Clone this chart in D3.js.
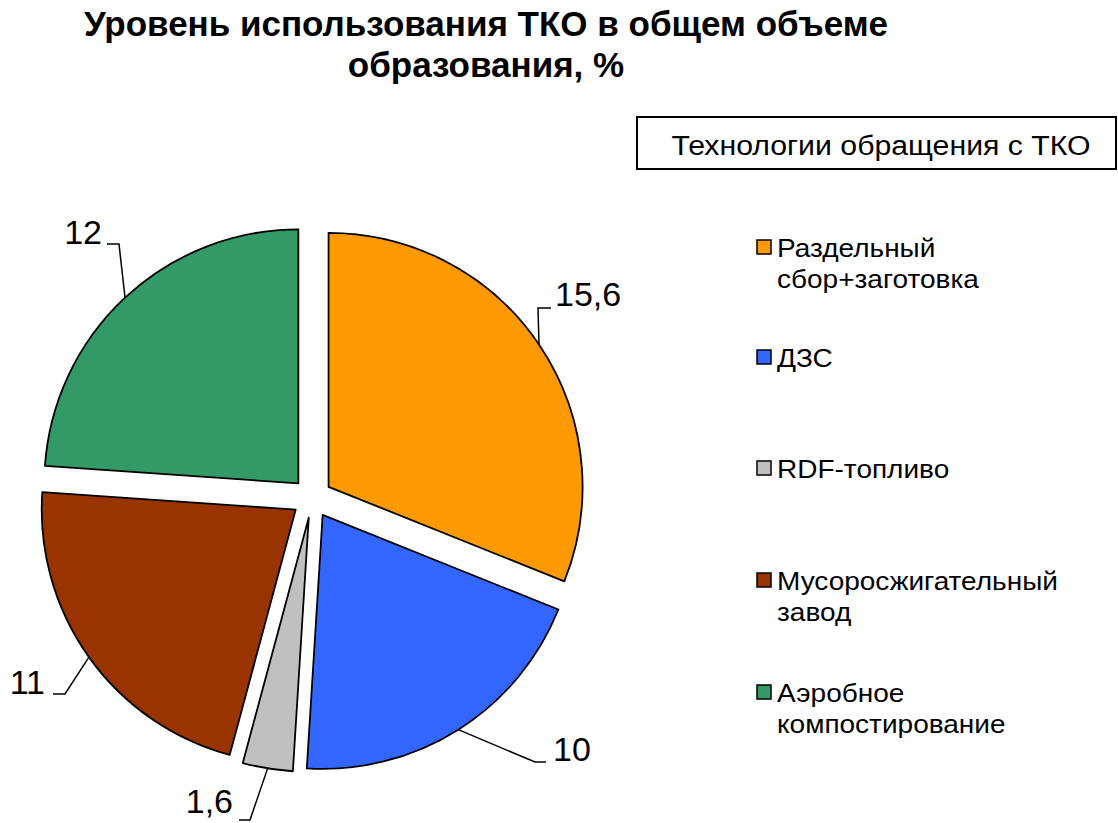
<!DOCTYPE html>
<html>
<head>
<meta charset="utf-8">
<script src="https://cdn.jsdelivr.net/npm/d3@7"></script>
<style>
  body { margin: 0; background: #fff; }
  text { font-family: "Liberation Sans", Arial, sans-serif; }
</style>
</head>
<body>
<svg id="chart" width="1118" height="823"></svg>
<script>
var categories = ["Раздельный сбор+заготовка", "ДЗС", "RDF-топливо", "Мусоросжигательный завод", "Аэробное компостирование"];
var values = [15.6, 10, 1.6, 11, 12];
var valueLabels = ["15,6", "10", "1,6", "11", "12"];
var colors = ["#FF9900", "#3366FF", "#C0C0C0", "#993300", "#339966"];
// legend lines (wrapped as in the picture)
var legendLines = [["Раздельный", "сбор+заготовка"], ["ДЗС"], ["RDF-топливо"], ["Мусоросжигательный", "завод"], ["Аэробное", "компостирование"]];
var titleLines = ["Уровень использования ТКО в общем объеме", "образования, %"];
var legendTitle = "Технологии обращения с ТКО";

// layout
var cx = 312, cy = 498, radius = 254, explode = 20;
var stretch = 1.12; // legend text in the picture is a bit wide
// leader elbow / end points and label text anchors (dragged labels)
var labelLayout = [
  {elbow: [538, 308], end: [551, 308], tx: 555, ty: 306, anchor: "start"},
  {elbow: [535, 762], end: [546, 762], tx: 553, ty: 761, anchor: "start"},
  {elbow: [250, 820], end: [239, 820], tx: 233, ty: 813, anchor: "end"},
  {elbow: [65, 694], end: [53, 694], tx: 45, ty: 694, anchor: "end"},
  {elbow: [119, 244], end: [107, 244], tx: 102, ty: 244, anchor: "end"}
];

var svg = d3.select("#chart");

function widen(sel, k) {
  sel.each(function() {
    var w = this.getComputedTextLength();
    d3.select(this).attr("textLength", w * k).attr("lengthAdjust", "spacingAndGlyphs");
  });
}

var title = svg.append("g").attr("class", "title");
title.selectAll("text")
  .data(titleLines)
  .enter()
  .append("text")
  .attr("x", 486)
  .attr("y", function(d, i) { return 36 + i * 41; })
  .attr("text-anchor", "middle")
  .style("font-size", "35px")
  .style("font-weight", "bold")
  .text(function(d) { return d; });

var pie = d3.pie().sort(null).value(function(d) { return d; });
var arcs = pie(values);
var arc = d3.arc().innerRadius(0).outerRadius(radius);

function dir(d) {
  var a = (d.startAngle + d.endAngle) / 2;
  return [Math.sin(a), -Math.cos(a)];
}

var chart = svg.append("g").attr("transform", "translate(" + cx + "," + cy + ")");

chart.selectAll(".slice")
  .data(arcs)
  .enter()
  .append("path")
  .attr("class", "slice")
  .attr("d", arc)
  .attr("transform", function(d) {
    var v = dir(d);
    return "translate(" + v[0] * explode + "," + v[1] * explode + ")";
  })
  .style("fill", function(d, i) { return colors[i]; })
  .style("stroke", "#000")
  .style("stroke-width", 1.8)
  .style("stroke-linejoin", "round");

// leader lines and value labels
var labels = svg.append("g").attr("class", "labels");
arcs.forEach(function(d, i) {
  var v = dir(d);
  var L = labelLayout[i];
  var sx = cx + v[0] * (radius + explode), sy = cy + v[1] * (radius + explode);
  labels.append("polyline")
    .attr("points", [[sx, sy], L.elbow, L.end].map(function(p) { return p.join(","); }).join(" "))
    .style("fill", "none")
    .style("stroke", "#000")
    .style("stroke-width", 1.5);
  labels.append("text")
    .attr("x", L.tx)
    .attr("y", L.ty)
    .attr("text-anchor", L.anchor)
    .style("font-size", "34px")
    .text(valueLabels[i]);
});

// legend title box
svg.append("rect")
  .attr("x", 637).attr("y", 117)
  .attr("width", 479).attr("height", 52)
  .style("fill", "#fff")
  .style("stroke", "#000")
  .style("stroke-width", 2);
svg.append("text")
  .attr("x", 881).attr("y", 155)
  .attr("text-anchor", "middle")
  .style("font-size", "27px")
  .text(legendTitle)
  .call(widen, stretch);

// legend
var legendY = [257, 367, 478, 590, 702];
var legend = svg.append("g").attr("class", "legend");
var items = legend.selectAll(".item")
  .data(categories)
  .enter()
  .append("g")
  .attr("class", "item")
  .attr("transform", function(d, i) { return "translate(0," + legendY[i] + ")"; });
items.append("rect")
  .attr("x", 757).attr("y", -17)
  .attr("width", 14).attr("height", 14)
  .style("fill", function(d, i) { return colors[i]; })
  .style("stroke", "#000")
  .style("stroke-width", 1.5);
items.each(function(d, i) {
  var g = d3.select(this);
  legendLines[i].forEach(function(line, j) {
    g.append("text")
      .attr("x", 777)
      .attr("y", j * 31)
      .style("font-size", "25px")
      .text(line)
      .call(widen, stretch);
  });
});
</script>
</body>
</html>
